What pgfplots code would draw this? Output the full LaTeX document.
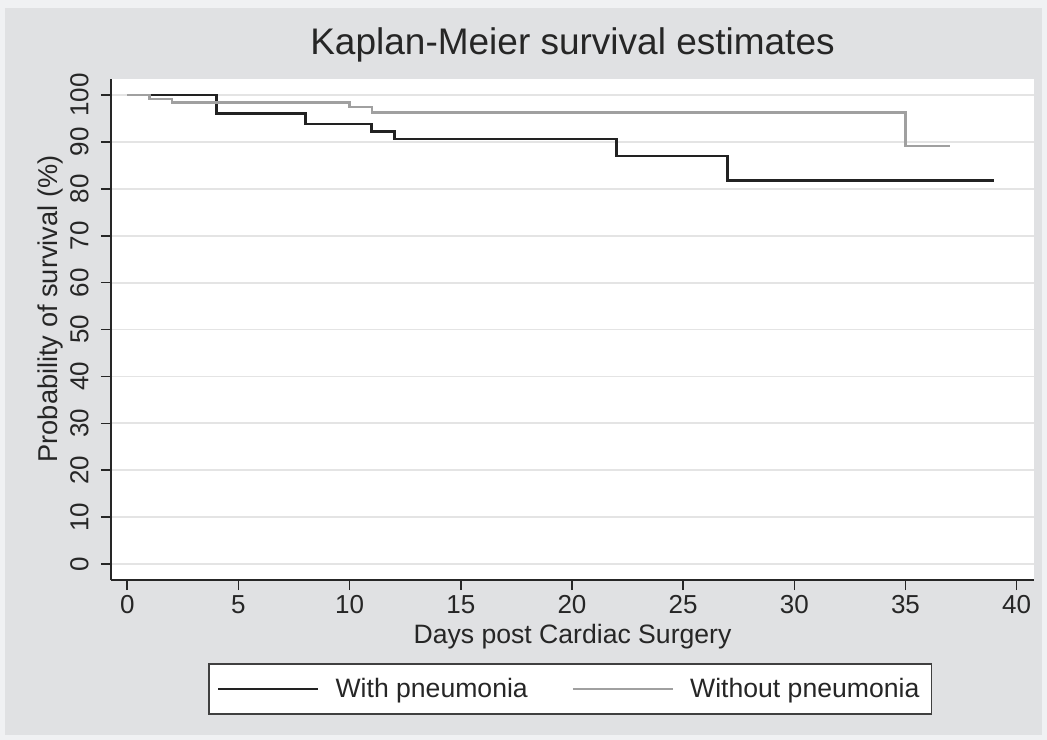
\documentclass[border=0pt]{standalone}
\usepackage{fontspec}
\setmainfont{Liberation Sans}
\usepackage{pgfplots}
\pgfplotsset{compat=1.18}
\definecolor{outerbg}{RGB}{240,241,243}
\definecolor{panelbg}{RGB}{224,225,227}
\definecolor{kmdark}{RGB}{34,34,34}
\definecolor{kmgray}{RGB}{160,160,160}
\definecolor{gridc}{RGB}{228,228,228}

\begin{document}
\begin{tikzpicture}
% background, 1 px = 0.5bp
\fill[outerbg] (0,0) rectangle (523.5bp,-370bp);
\fill[panelbg] (2.5bp,-4bp) rectangle (521bp,-367.5bp);
\begin{axis}[
    at={(55.5bp,-290bp)}, anchor=south west,
    scale only axis,
    width=461.5bp, height=250.5bp,
    xmin=-0.733, xmax=40.78,
    ymin=-3.41, ymax=103.41,
    axis x line*=bottom, axis y line*=left,
    axis line style={-, black!85, line width=0.9bp},
    axis background/.style={fill=white},
    xtick={0,5,...,40},
    ytick={0,10,...,100},
    tick align=outside,
    major tick length=5bp,
    tick style={black!85, line width=0.8bp},
    ymajorgrids,
    grid style={gridc, line width=0.9bp},
    /pgf/number format/assume math mode=true,
    tick label style={font=\fontsize{13bp}{15bp}\selectfont, text=black!85},
    xticklabel style={inner ysep=2.5bp},
    yticklabel style={rotate=90, anchor=south, inner ysep=6bp},
    title={Kaplan-Meier survival estimates},
    title style={at={(axis description cs:0.5,1.0439)}, anchor=center,
        font=\fontsize{18.5bp}{21bp}\selectfont, text=black!85},
    xlabel={Days post Cardiac Surgery},
    xlabel style={at={(axis description cs:0.5,-0.113)}, anchor=center,
        inner sep=0.5bp,
        font=\fontsize{13.3bp}{15bp}\selectfont, text=black!85},
    ylabel={Probability of survival (\%)},
    ylabel style={at={(axis description cs:-0.0661,0.541)}, anchor=center,
        inner sep=0.5bp,
        font=\fontsize{13.6bp}{15bp}\selectfont, text=black!85},
    legend columns=2,
    legend style={at={(axis description cs:0.1051,-0.1657)}, anchor=north west,
        draw=black!75, line width=0.8bp, fill=white,
        font=\fontsize{13.3bp}{15bp}\selectfont, text=black!85,
        inner xsep=4bp, inner ysep=5bp,
        /tikz/every odd column/.append style={column sep=6bp},
        /tikz/every even column/.append style={column sep=20bp}},
    legend image code/.code={\draw[#1] (0bp,0bp) -- (50bp,0bp);},
]
\addplot[const plot mark left, kmdark, line width=1.4bp] coordinates {
    (1,100) (4,96.0) (8,93.8) (11,92.2) (12,90.6) (22,87.0) (27,81.8) (39,81.8)
};
\addlegendentry{With pneumonia}
\addplot[const plot mark left, kmgray, line width=1.2bp] coordinates {
    (0,100) (1,99.1) (2,98.4) (10,97.5) (11,96.3) (35,89.1) (37,89.1)
};
\addlegendentry{Without pneumonia}
\end{axis}
\end{tikzpicture}
\end{document}
